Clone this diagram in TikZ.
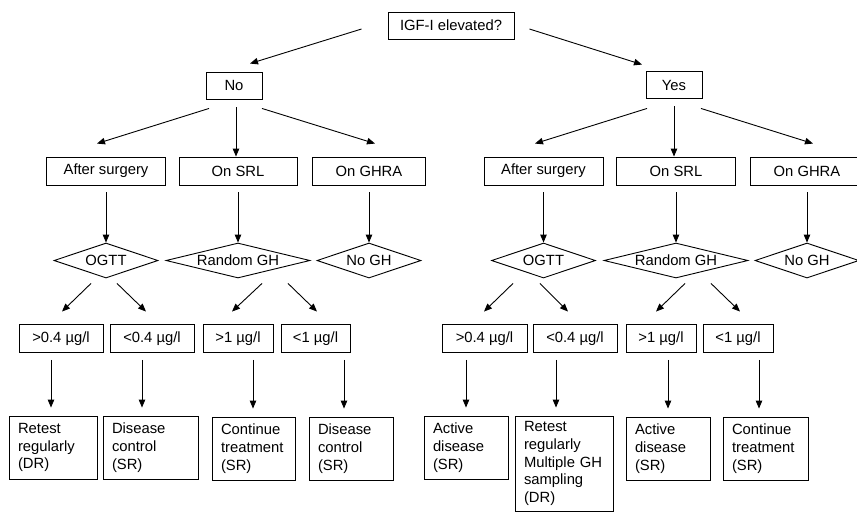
\documentclass[tikz,border=0pt]{standalone}
\usepackage{fontspec}
\setmainfont{Liberation Sans}
\usetikzlibrary{arrows.meta,shapes.geometric,calc}

\begin{document}
\begin{tikzpicture}[x=1pt,y=-1pt,line width=0.9pt,
  >={Triangle[length=8pt,width=6.5pt]},
  font=\fontsize{14.8}{17.7}\selectfont,
  box/.style={draw,inner sep=0pt,minimum height=28pt},
  test/.style={draw,diamond,aspect=4,inner sep=0pt,minimum width=104pt,
    minimum height=35pt},
  result/.style={draw,align=left,inner xsep=9pt,minimum height=63pt}]
\useasboundingbox (0,0) rectangle (857,512);
\clip (0,0) rectangle (857,512);

\node[box,minimum width=126pt,minimum height=27pt] (igf) at (451,25.5) {IGF-I elevated?};
\node[box,minimum width=56pt,minimum height=27pt] (no) at (234,85.5) {No};
\node[box,minimum width=56pt,minimum height=27pt] (yes) at (674,85) {Yes};

\node[box,minimum width=119pt] (surg1) at (106,171) {After surgery};
\node[box,minimum width=118pt] (srl1) at (238,171) {On SRL};
\node[box,minimum width=113pt] (ghra1) at (369,171) {On GHRA};
\node[box,minimum width=119pt] (surg2) at (543.5,171) {After surgery};
\node[box,minimum width=119pt] (srl2) at (676,171) {On SRL};
\node[box,minimum width=113pt] (ghra2) at (807,171) {On GHRA};

\node[test] (ogtt1) at (106,260.5) {OGTT};
\node[test,minimum width=144pt] (rgh1) at (238,260.5) {Random GH};
\node[test] (nogh1) at (369,260.5) {No GH};
\node[test] (ogtt2) at (543.5,260.5) {OGTT};
\node[test,minimum width=144pt] (rgh2) at (676,260.5) {Random GH};
\node[test] (nogh2) at (807,260.5) {No GH};

\node[box,minimum width=84pt] (t1) at (61,338.5) {>0.4 µg/l};
\node[box,minimum width=84pt] (t2) at (152,338.5) {<0.4 µg/l};
\node[box,minimum width=70pt] (t3) at (238,338.5) {>1 µg/l};
\node[box,minimum width=69pt] (t4) at (315.5,338.5) {<1 µg/l};
\node[box,minimum width=85pt] (t5) at (484.5,338.5) {>0.4 µg/l};
\node[box,minimum width=84pt] (t6) at (575,338.5) {<0.4 µg/l};
\node[box,minimum width=70pt] (t7) at (661,338.5) {>1 µg/l};
\node[box,minimum width=70pt] (t8) at (738,338.5) {<1 µg/l};

\node[result,text width=70pt] (r1) at (53,447.5) {Retest\\regularly\\(DR)};
\node[result,text width=77pt] (r2) at (150.5,447.5) {Disease\\control\\(SR)};
\node[result,text width=65pt] (r3) at (253.5,448.5) {Continue\\treatment\\(SR)};
\node[result,text width=66pt] (r4) at (351,448.5) {Disease\\control\\(SR)};
\node[result,text width=66pt] (r5) at (466,447.5) {Active\\disease\\(SR)};
\node[result,text width=80pt,minimum height=95pt] (r6) at (564,463.5)
  {Retest\\regularly\\Multiple GH\\sampling\\(DR)};
\node[result,text width=66pt] (r7) at (668,448.5) {Active\\disease\\(SR)};
\node[result,text width=67pt] (r8) at (765.5,448.5) {Continue\\treatment\\(SR)};

\begin{scope}[->]
\draw ($(igf.west)+(-26,3.5)$) -- ($(no.north)+(16,-8)$);
\draw ($(igf.east)+(15,3.5)$) -- ($(yes.north)+(-32,-6.5)$);
\draw ($(no.south)+(-25,9)$) -- ($(surg1.north)+(-9,-13)$);
\draw ($(no.south)+(2,8)$) -- ($(srl1.north)+(-2,0)$);
\draw ($(no.south)+(28,9)$) -- ($(ghra1.north)+(6,-13)$);
\draw ($(yes.south)+(-27,9.5)$) -- ($(surg2.north)+(-8.5,-13)$);
\draw ($(yes.south)+(0,7.5)$) -- ($(srl2.north)+(-2,0)$);
\draw ($(yes.south)+(27,9.5)$) -- ($(ghra2.north)+(6,-13)$);
\draw ($(surg1.south)+(0,7)$) -- (ogtt1.north);
\draw ($(srl1.south)+(0,7)$) -- (rgh1.north);
\draw ($(ghra1.south)+(0,7)$) -- (nogh1.north);
\draw ($(surg2.south)+(0,7)$) -- (ogtt2.north);
\draw ($(srl2.south)+(0,7)$) -- (rgh2.north);
\draw ($(ghra2.south)+(0,7)$) -- (nogh2.north);
\draw ($(ogtt1.south)+(-15,5)$) -- ($(t1.north)+(1,-12.5)$);
\draw ($(ogtt1.south)+(11,5)$) -- ($(t2.north)+(-6,-12.5)$);
\draw ($(rgh1.south)+(24,5)$) -- ($(t3.north)+(-6,-12.5)$);
\draw ($(rgh1.south)+(50,5)$) -- ($(t4.north)+(1.5,-12.5)$);
\draw ($(ogtt2.south)+(-30.5,5)$) -- ($(t5.north)+(-0.5,-12.5)$);
\draw ($(ogtt2.south)+(-3.5,5)$) -- ($(t6.north)+(-7,-12.5)$);
\draw ($(rgh2.south)+(9,5)$) -- ($(t7.north)+(-5,-12.5)$);
\draw ($(rgh2.south)+(35,5)$) -- ($(t8.north)+(2,-12.5)$);
\draw ($(t1.south)+(-10,7)$) -- ($(r1.north)+(-2,-8)$);
\draw ($(t2.south)+(-10,7)$) -- ($(r2.north)+(-8.5,-8)$);
\draw ($(t3.south)+(15,7)$) -- ($(r3.north)+(-0.5,-8)$);
\draw ($(t4.south)+(28.5,7)$) -- ($(r4.north)+(-7,-8)$);
\draw ($(t5.south)+(-18.5,7)$) -- ($(r5.north)+(0,-8)$);
\draw ($(t6.south)+(-19,7)$) -- ($(r6.north)+(-8,-8)$);
\draw ($(t7.south)+(7,7)$) -- ($(r7.north)+(0,-8)$);
\draw ($(t8.south)+(21,7)$) -- ($(r8.north)+(-6.5,-8)$);
\end{scope}
\end{tikzpicture}
\end{document}
